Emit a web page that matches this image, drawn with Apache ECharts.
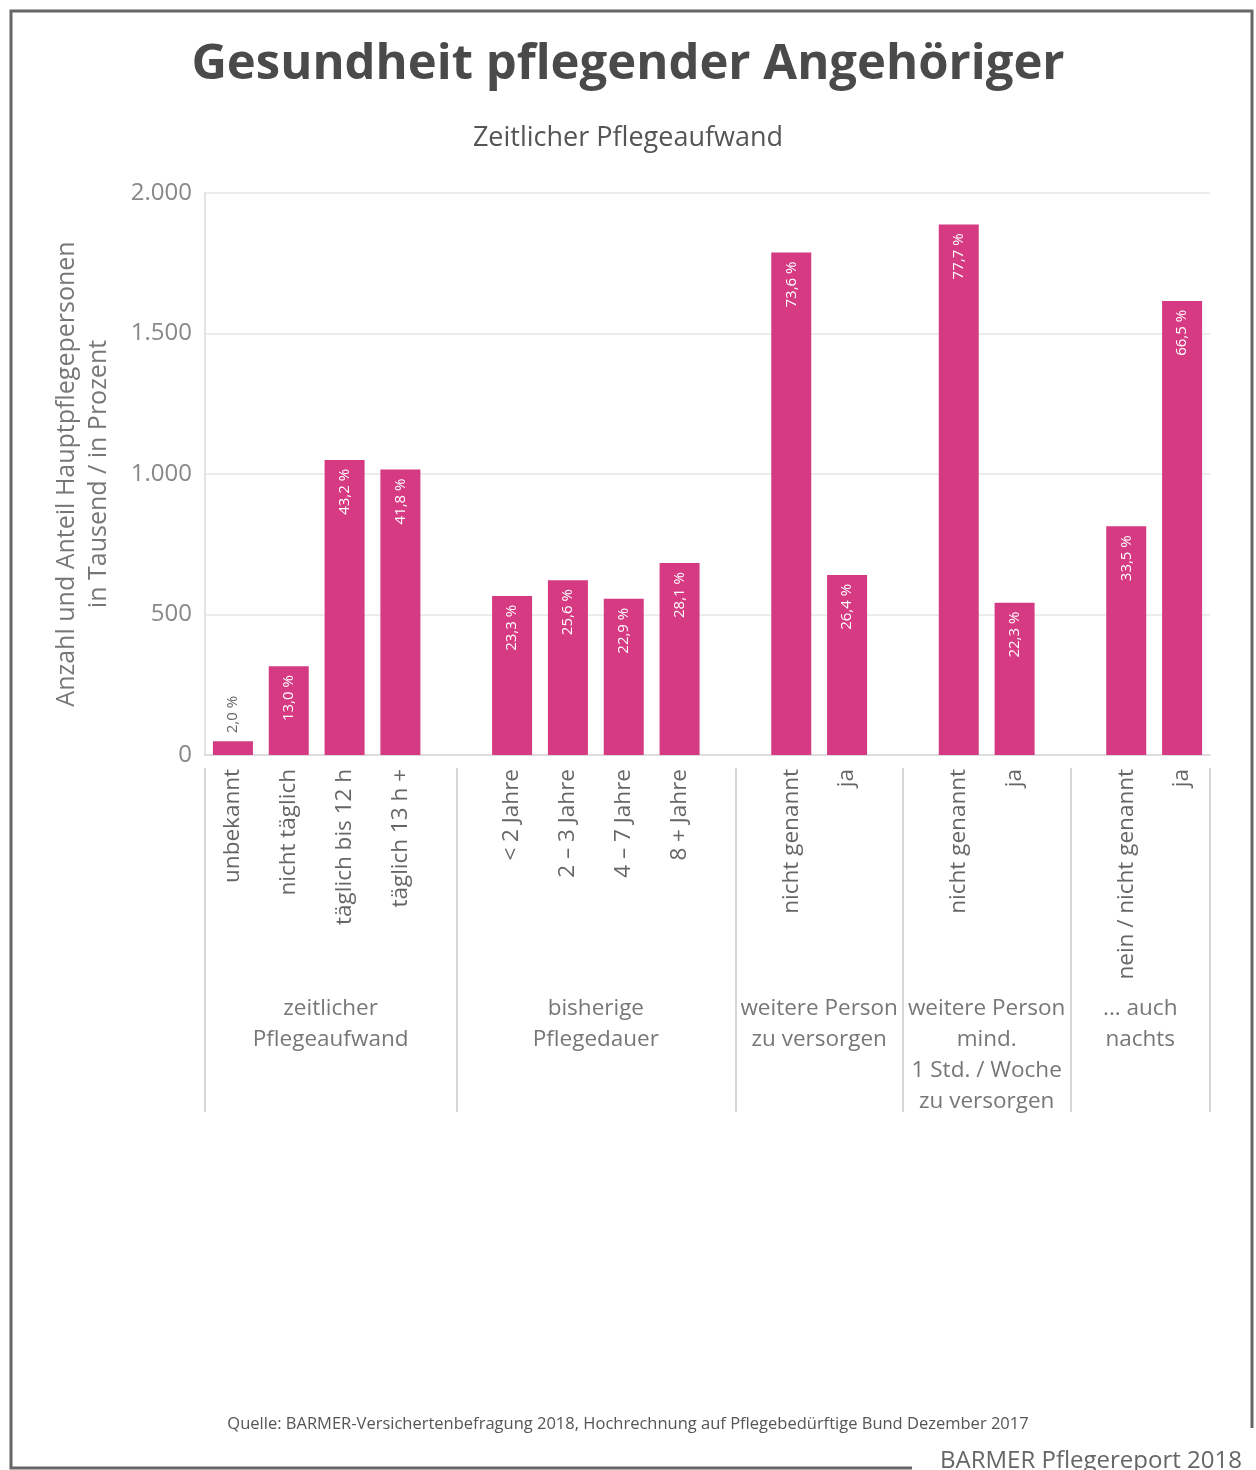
<!DOCTYPE html>
<html>
<head>
<meta charset="utf-8">
<script src="https://cdn.jsdelivr.net/npm/echarts@6/dist/echarts.min.js"></script>
<style>
  html, body { margin: 0; padding: 0; background: #fff; }
  #chart { width: 1256px; height: 1470px; }
</style>
</head>
<body>
<div id="chart"></div>
<script>
// bar categories, empty strings are the gaps between groups
const categories = [
  'unbekannt', 'nicht täglich', 'täglich bis 12 h', 'täglich 13 h +', '',
  '< 2 Jahre', '2 – 3 Jahre', '4 – 7 Jahre', '8 + Jahre', '',
  'nicht genannt', 'ja', '',
  'nicht genannt', 'ja', '',
  'nein / nicht genannt', 'ja'
];
// Anzahl in Tausend
const values = [49, 316, 1050, 1016, '-', 566, 622, 556, 683, '-', 1788, 641, '-', 1888, 542, '-', 814, 1616];
// Anteil in Prozent
const shares = ['2,0', '13,0', '43,2', '41,8', '', '23,3', '25,6', '22,9', '28,1', '', '73,6', '26,4', '', '77,7', '22,3', '', '33,5', '66,5'];

// group labels and where they sit / separators on the 0..18 slot scale
const groupLabels = ['zeitlicher\nPflegeaufwand', 'bisherige\nPflegedauer', 'weitere Person\nzu versorgen',
  'weitere Person\nmind.\n1 Std. / Woche\nzu versorgen', '... auch\nnachts'];
const groupCenters = [2.25, 7, 11, 14, 16.75];
const groupBounds = [0, 4.5, 9.5, 12.5, 15.5, 18];

const yTicks = [0, 500, 1000, 1500, 2000];

const font = '"Open Sans", sans-serif';
const pink = '#d63a82';

const chart = echarts.init(document.getElementById('chart'));

const barData = values.map((v, i) => {
  if (v === '-') return '-';
  const item = { value: v };
  if (i === 0) {
    item.label = {
      position: 'top', align: 'left', color: '#666', distance: 8
    };
  }
  return item;
});

const option = {
  animation: false,
  textStyle: { fontFamily: font },
  title: [
    {
      text: 'Gesundheit pflegender Angehöriger',
      left: 'center', top: 36,
      textStyle: { fontSize: 49, fontWeight: 'bold', color: '#4a4a4a', fontFamily: font }
    },
    {
      text: 'Zeitlicher Pflegeaufwand',
      left: 'center', top: 120,
      textStyle: { fontSize: 27, fontWeight: 'normal', color: '#555', fontFamily: font }
    }
  ],
  grid: { left: 205, right: 46, top: 193, bottom: 715, containLabel: false },
  xAxis: [
    {
      type: 'category',
      data: categories,
      axisLine: { lineStyle: { color: '#ddd', width: 2 } },
      axisTick: { show: false },
      axisLabel: {
        interval: 0, rotate: 90, margin: 14,
        fontSize: 22.5, color: '#666', fontFamily: font
      }
    },
    {
      type: 'value',
      position: 'bottom',
      min: 0, max: 18,
      offset: 13,
      axisLine: { show: false },
      splitLine: { show: false },
      axisTick: {
        show: true, customValues: groupBounds, length: 344, inside: false,
        lineStyle: { color: '#d6d6d6', width: 2 }
      },
      axisLabel: {
        customValues: groupCenters,
        margin: 225,
        fontSize: 22.5, lineHeight: 31, color: '#777', fontFamily: font,
        formatter: (v) => groupLabels[groupCenters.indexOf(v)]
      }
    }
  ],
  yAxis: {
    type: 'value',
    min: 0, max: 2000, interval: 500,
    name: 'Anzahl und Anteil Hauptpflegepersonen\nin Tausend / in Prozent',
    nameLocation: 'middle',
    nameGap: 90,
    nameTextStyle: { fontSize: 25, lineHeight: 32, color: '#777', fontFamily: font },
    axisLine: { show: true, lineStyle: { color: '#e3e3e3', width: 2 } },
    axisTick: { show: false },
    splitLine: { lineStyle: { color: '#ececec', width: 2 } },
    axisLabel: {
      margin: 13, fontSize: 24, color: '#888', fontFamily: font,
      formatter: (v) => yTicks.includes(v) ? v.toLocaleString('de-DE') : ''
    }
  },
  series: [
    {
      type: 'bar',
      data: barData,
      barWidth: 40,
      itemStyle: { color: pink },
      label: {
        show: true,
        position: 'insideTop',
        rotate: 90,
        align: 'right',
        verticalAlign: 'middle',
        distance: 9,
        fontSize: 15,
        color: '#fff',
        fontFamily: font,
        formatter: (p) => shares[p.dataIndex] + ' %'
      }
    }
  ],
  graphic: [
    {
      type: 'polyline',
      shape: { points: [[912, 1468], [11, 1468], [11, 11], [1252, 11], [1252, 1428]] },
      style: { stroke: '#666', lineWidth: 3, fill: null }
    },
    {
      type: 'text',
      left: 'center', top: 1416,
      style: {
        text: 'Quelle: BARMER-Versichertenbefragung 2018, Hochrechnung auf Pflegebedürftige Bund Dezember 2017',
        fontSize: 16.5, fill: '#555', fontFamily: font
      }
    },
    {
      type: 'text',
      left: 940, top: 1449,
      style: { text: 'BARMER Pflegereport 2018', fontSize: 24, fill: '#666', fontFamily: font }
    }
  ]
};

chart.setOption(option);
</script>
</body>
</html>
